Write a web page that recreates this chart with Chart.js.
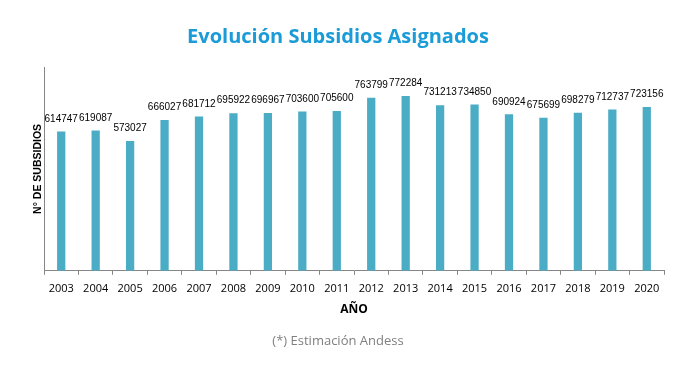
<!DOCTYPE html>
<html>
<head>
<meta charset="utf-8">
<script src="https://cdn.jsdelivr.net/npm/chart.js@4"></script>
<style>
  html, body { margin: 0; padding: 0; background: #fff; }
  #wrap { width: 698px; height: 370px; }
</style>
</head>
<body>
<div id="wrap"><canvas id="chart" width="698" height="370"></canvas></div>
<script>
const years = ["2003", "2004", "2005", "2006", "2007", "2008", "2009", "2010", "2011",
  "2012", "2013", "2014", "2015", "2016", "2017", "2018", "2019", "2020"];
const subsidios = [614747, 619087, 573027, 666027, 681712, 695922, 696967, 703600, 705600,
  763799, 772284, 731213, 734850, 690924, 675699, 698279, 712737, 723156];

const FONT = "'Open Sans', 'Liberation Sans', sans-serif";

// draws the value above each bar
const barLabels = {
  id: "barLabels",
  afterDatasetsDraw(chart) {
    const { ctx } = chart;
    const meta = chart.getDatasetMeta(0);
    ctx.save();
    ctx.font = "10px 'Liberation Sans', sans-serif";
    ctx.fillStyle = "#000";
    ctx.textAlign = "center";
    ctx.textBaseline = "middle";
    meta.data.forEach((bar, i) => {
      ctx.fillText(String(subsidios[i]), bar.x, bar.y - 12.5);
    });
    ctx.restore();
  },
};

new Chart(document.getElementById("chart"), {
  type: "bar",
  data: {
    labels: years,
    datasets: [
      {
        data: subsidios,
        backgroundColor: "#4bacc6",
        barPercentage: 0.24,
        categoryPercentage: 1,
      },
    ],
  },
  options: {
    responsive: false,
    animation: false,
    layout: { padding: { left: 12, right: 34, top: 0, bottom: 0 } },
    plugins: {
      legend: { display: false },
      tooltip: { enabled: false },
      title: {
        display: true,
        text: "Evolución Subsidios Asignados",
        color: "#1b9bd7",
        font: { family: FONT, size: 20, weight: "bold" },
        padding: { top: 25, bottom: 18 },
      },
      subtitle: {
        display: true,
        position: "bottom",
        text: "(*) Estimación Andess",
        color: "#7f7f7f",
        font: { family: FONT, size: 13 },
        padding: { top: 17, bottom: 21 },
      },
    },
    scales: {
      x: {
        offset: true,
        grid: {
          display: true,
          drawOnChartArea: false,
          tickLength: 4,
          color: "#868686",
          offset: true,
        },
        border: { display: true, color: "#868686" },
        ticks: { color: "#000", padding: 7, maxRotation: 0, autoSkip: false, font: { family: FONT, size: 11 } },
        title: {
          display: true,
          text: "AÑO",
          color: "#000",
          font: { family: FONT, size: 12, weight: "bold" },
          padding: { top: 0, bottom: 0 },
        },
      },
      y: {
        min: 0,
        max: 900000,
        grid: { display: false },
        border: { display: true, color: "#868686" },
        ticks: { display: false },
        title: {
          display: true,
          text: "N° DE SUBSIDIOS",
          color: "#000",
          font: { family: "'Liberation Sans Narrow', 'Liberation Sans', sans-serif", size: 10.5, weight: "bold" },
          padding: { top: 20, bottom: 0 },
        },
        afterFit(scale) {
          scale.width = 32;
        },
      },
    },
  },
  plugins: [barLabels],
});
</script>
</body>
</html>
